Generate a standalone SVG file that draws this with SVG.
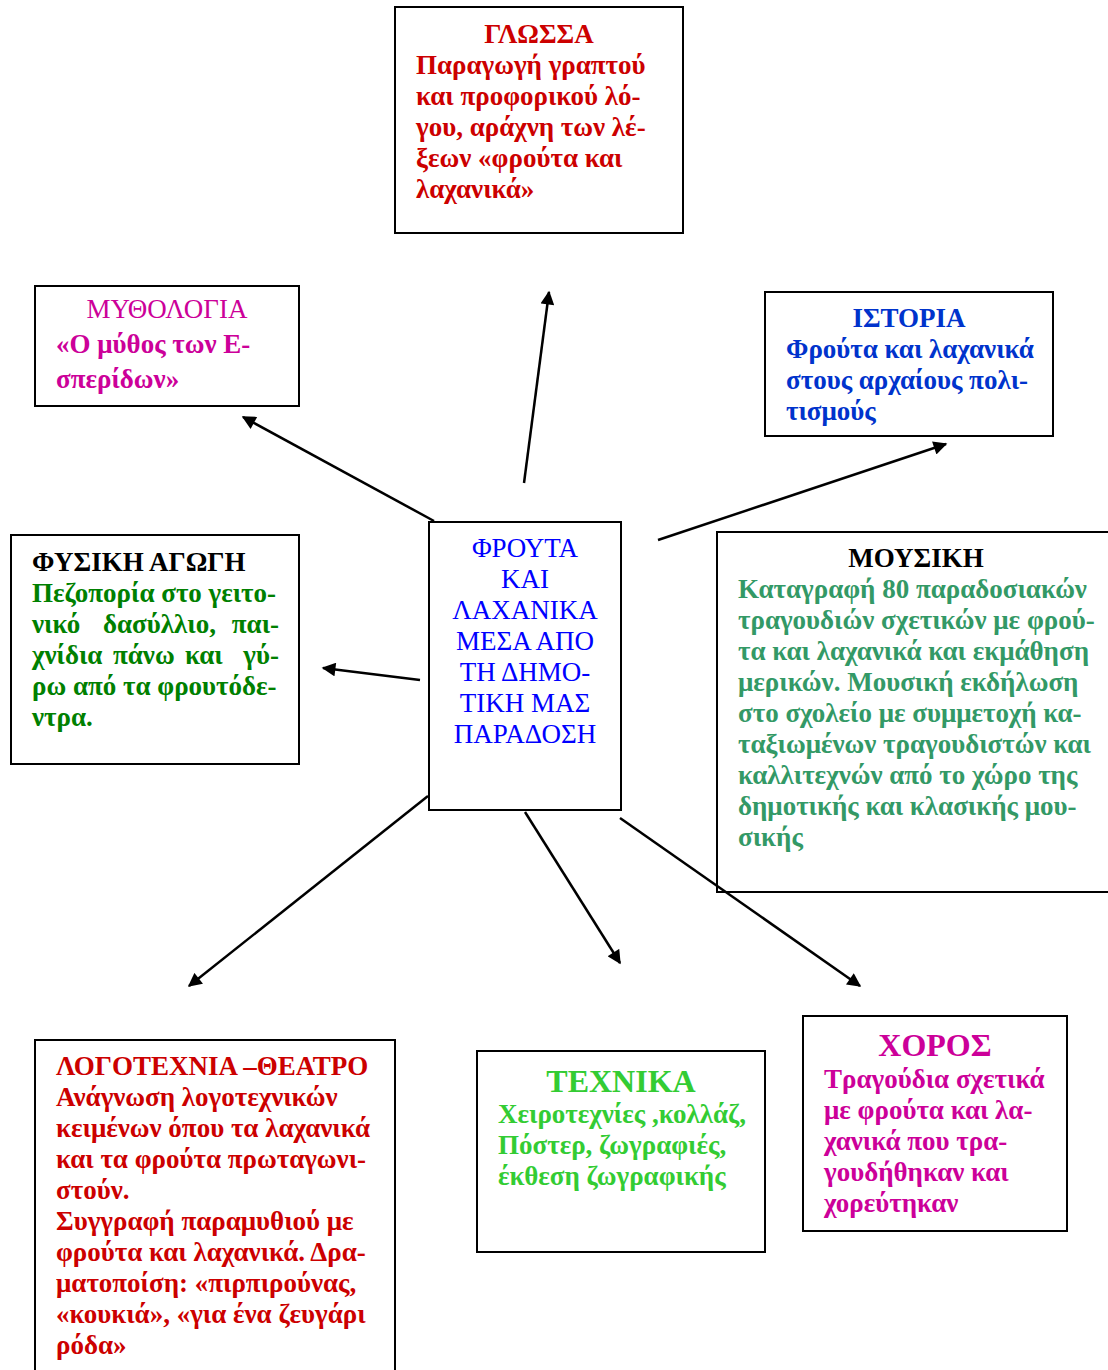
<svg xmlns="http://www.w3.org/2000/svg" width="1108" height="1370" viewBox="0 0 1108 1370">
<defs>
<style>
.box{fill:#fff;stroke:#000;stroke-width:2}
text{font-family:"Liberation Serif","Times New Roman",serif;font-size:27px;font-weight:bold}
.c{text-anchor:middle}
.e{text-anchor:end}
.reg{font-weight:normal}
.big{font-size:32px}
.red{fill:#cc0000}
.mag{fill:#cc0099}
.blu{fill:#0033cc}
.cblu{fill:#0000ff}
.grn{fill:#008000}
.sea{fill:#339966}
.lgr{fill:#33cc33}
.blk{fill:#000}
.conn line{stroke:#000;stroke-width:2.5;marker-end:url(#ah)}
</style>
<marker id="ah" viewBox="0 0 10 10" refX="9" refY="5" markerWidth="6" markerHeight="5.5" orient="auto" markerUnits="strokeWidth">
<path d="M0,0 L10,5 L0,10 z" fill="#000"/>
</marker>
</defs>
<rect width="1108" height="1370" fill="#fff"/>

<g id="glossa">
<rect class="box" x="395" y="7" width="288" height="226"/>
<text class="red c" x="539" y="43">ΓΛΩΣΣΑ</text>
<text class="red" x="416" y="74">Παραγωγή γραπτού</text>
<text class="red" x="416" y="105">και προφορικού λό-</text>
<text class="red" x="416" y="136">γου, αράχνη των λέ-</text>
<text class="red" x="416" y="167">ξεων «φρούτα και</text>
<text class="red" x="416" y="198">λαχανικά»</text>
</g>

<g id="mythologia">
<rect class="box" x="35" y="286" width="264" height="120"/>
<text class="mag c reg" x="167" y="318" font-size="26">ΜΥΘΟΛΟΓΙΑ</text>
<text class="mag" x="56" y="353">«Ο μύθος των Ε-</text>
<text class="mag" x="56" y="388">σπερίδων»</text>
</g>

<g id="istoria">
<rect class="box" x="765" y="292" width="288" height="144"/>
<text class="blu c" x="909" y="327">ΙΣΤΟΡΙΑ</text>
<text class="blu" x="786" y="358">Φρούτα και λαχανικά</text>
<text class="blu" x="786" y="389">στους αρχαίους πολι-</text>
<text class="blu" x="786" y="420">τισμούς</text>
</g>

<g id="kentro">
<rect class="box" x="429" y="522" width="192" height="288"/>
<text class="cblu c reg" x="525" y="557">ΦΡΟΥΤΑ</text>
<text class="cblu c reg" x="525" y="588">ΚΑΙ</text>
<text class="cblu c reg" x="525" y="619">ΛΑΧΑΝΙΚΑ</text>
<text class="cblu c reg" x="525" y="650">ΜΕΣΑ ΑΠΟ</text>
<text class="cblu c reg" x="525" y="681">ΤΗ ΔΗΜΟ-</text>
<text class="cblu c reg" x="525" y="712">ΤΙΚΗ ΜΑΣ</text>
<text class="cblu c reg" x="525" y="743">ΠΑΡΑΔΟΣΗ</text>
</g>

<g id="fysiki-agogi">
<rect class="box" x="11" y="535" width="288" height="229"/>
<text class="blk" x="32" y="571">ΦΥΣΙΚΗ ΑΓΩΓΗ</text>
<text class="grn" x="32" y="602">Πεζοπορία στο γειτο-</text>
<text class="grn" x="32" y="633">νικό</text>
<text class="grn" x="103" y="633">δασύλλιο,</text>
<text class="grn e" x="279" y="633">παι-</text>
<text class="grn" x="32" y="664">χνίδια</text>
<text class="grn" x="113" y="664">πάνω</text>
<text class="grn" x="185" y="664">και</text>
<text class="grn e" x="279" y="664">γύ-</text>
<text class="grn" x="32" y="695">ρω από τα φρουτόδε-</text>
<text class="grn" x="32" y="726">ντρα.</text>
</g>

<g id="mousiki">
<rect class="box" x="717" y="532" width="400" height="360"/>
<text class="blk c" x="916" y="567">ΜΟΥΣΙΚΗ</text>
<text class="sea" x="738" y="598">Καταγραφή 80 παραδοσιακών</text>
<text class="sea" x="738" y="629">τραγουδιών σχετικών με φρού-</text>
<text class="sea" x="738" y="660">τα και λαχανικά και εκμάθηση</text>
<text class="sea" x="738" y="691">μερικών. Μουσική εκδήλωση</text>
<text class="sea" x="738" y="722">στο σχολείο με συμμετοχή κα-</text>
<text class="sea" x="738" y="753">ταξιωμένων τραγουδιστών και</text>
<text class="sea" x="738" y="784">καλλιτεχνών από το χώρο της</text>
<text class="sea" x="738" y="815">δημοτικής και κλασικής μου-</text>
<text class="sea" x="738" y="846">σικής</text>
</g>

<g id="logotexnia">
<rect class="box" x="35" y="1040" width="360" height="340"/>
<text class="red" x="56" y="1075">ΛΟΓΟΤΕΧΝΙΑ –ΘΕΑΤΡΟ</text>
<text class="red" x="56" y="1106">Ανάγνωση λογοτεχνικών</text>
<text class="red" x="56" y="1137">κειμένων όπου τα λαχανικά</text>
<text class="red" x="56" y="1168">και τα φρούτα πρωταγωνι-</text>
<text class="red" x="56" y="1199">στούν.</text>
<text class="red" x="56" y="1230">Συγγραφή παραμυθιού με</text>
<text class="red" x="56" y="1261">φρούτα και λαχανικά. Δρα-</text>
<text class="red" x="56" y="1292">ματοποίση: «πιρπιρούνας,</text>
<text class="red" x="56" y="1323">«κουκιά», «για ένα ζευγάρι</text>
<text class="red" x="56" y="1354">ρόδα»</text>
</g>

<g id="texnika">
<rect class="box" x="477" y="1051" width="288" height="201"/>
<text class="lgr c big" x="621" y="1092">ΤΕΧΝΙΚΑ</text>
<text class="lgr" x="498" y="1123">Χειροτεχνίες ,κολλάζ,</text>
<text class="lgr" x="498" y="1154">Πόστερ, ζωγραφιές,</text>
<text class="lgr" x="498" y="1185">έκθεση ζωγραφικής</text>
</g>

<g id="xoros">
<rect class="box" x="803" y="1016" width="264" height="215"/>
<text class="mag c big" x="935" y="1056">ΧΟΡΟΣ</text>
<text class="mag" x="824" y="1088">Τραγούδια σχετικά</text>
<text class="mag" x="824" y="1119">με φρούτα και λα-</text>
<text class="mag" x="824" y="1150">χανικά που τρα-</text>
<text class="mag" x="824" y="1181">γουδήθηκαν και</text>
<text class="mag" x="824" y="1212">χορεύτηκαν</text>
</g>

<g id="connectors" class="conn">
<line x1="524" y1="483" x2="549" y2="292"/>
<line x1="434" y1="521" x2="243" y2="417"/>
<line x1="658" y1="540" x2="946" y2="444"/>
<line x1="420" y1="680" x2="323" y2="668"/>
<line x1="428" y1="796" x2="189" y2="986"/>
<line x1="525" y1="812" x2="620" y2="963"/>
<line x1="620" y1="818" x2="860" y2="986"/>
</g>
</svg>
